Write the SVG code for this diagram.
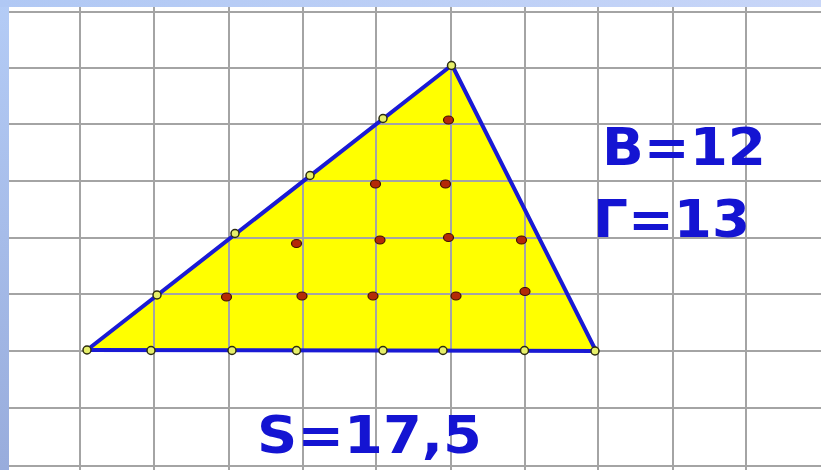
<svg xmlns="http://www.w3.org/2000/svg" width="821" height="470" viewBox="0 0 821 470">
<defs>
<linearGradient id="bgTop" x1="0" y1="0" x2="1" y2="0">
<stop offset="0" stop-color="#b0c8f4"/>
<stop offset="1" stop-color="#c8d6f8"/>
</linearGradient>
<linearGradient id="bgLeft" x1="0" y1="0" x2="0" y2="1">
<stop offset="0" stop-color="#b4ccf6"/>
<stop offset="1" stop-color="#98acdc"/>
</linearGradient>
<style>
.grid line{stroke:#a4a4a4;stroke-width:2}
.edge{stroke:#1a1ad4;stroke-width:4;stroke-linecap:round;fill:none}
.bdot{fill:#e6ef6a;stroke:#2c2c10;stroke-width:1.5}
.idot{fill:#b42a08;stroke:#401000;stroke-width:1.2}
.lbl{font-family:"DejaVu Sans","Liberation Sans",sans-serif;font-weight:bold;font-size:51px;fill:#1414d2}
</style>
</defs>
<g id="background">
<rect x="0" y="0" width="821" height="470" fill="url(#bgLeft)"/>
<rect x="0" y="0" width="821" height="7" fill="url(#bgTop)"/>
<rect x="9" y="7" width="812" height="463" fill="#ffffff"/>
</g>
<g id="triangle-fill">
<polygon points="87,350 452,65 596,351" fill="#ffff00"/>
</g>
<g id="grid" class="grid">
<line x1="80" y1="7" x2="80" y2="470"/>
<line x1="154" y1="7" x2="154" y2="470"/>
<line x1="229" y1="7" x2="229" y2="470"/>
<line x1="303" y1="7" x2="303" y2="470"/>
<line x1="376" y1="7" x2="376" y2="470"/>
<line x1="451" y1="7" x2="451" y2="470"/>
<line x1="525" y1="7" x2="525" y2="470"/>
<line x1="598" y1="7" x2="598" y2="470"/>
<line x1="673" y1="7" x2="673" y2="470"/>
<line x1="746" y1="7" x2="746" y2="470"/>
<line x1="9" y1="12" x2="821" y2="12"/>
<line x1="9" y1="68" x2="821" y2="68"/>
<line x1="9" y1="124" x2="821" y2="124"/>
<line x1="9" y1="181" x2="821" y2="181"/>
<line x1="9" y1="238" x2="821" y2="238"/>
<line x1="9" y1="294" x2="821" y2="294"/>
<line x1="9" y1="351" x2="821" y2="351"/>
<line x1="9" y1="408" x2="821" y2="408"/>
<line x1="9" y1="466" x2="821" y2="466"/>
</g>
<g id="connectors">
<line class="edge" x1="87" y1="350" x2="452" y2="65"/>
<line class="edge" x1="452" y1="65" x2="596" y2="351"/>
<line class="edge" x1="596" y1="351" x2="87" y2="350"/>
</g>
<g id="boundary-points">
<circle id="b1" class="bdot" cx="87" cy="350" r="4"/>
<circle id="b2" class="bdot" cx="151" cy="350.5" r="4"/>
<circle id="b3" class="bdot" cx="232" cy="350.5" r="4"/>
<circle id="b4" class="bdot" cx="296.5" cy="350.5" r="4"/>
<circle id="b5" class="bdot" cx="383" cy="350.5" r="4"/>
<circle id="b6" class="bdot" cx="443" cy="350.5" r="4"/>
<circle id="b7" class="bdot" cx="524.5" cy="350.5" r="4"/>
<circle id="b8" class="bdot" cx="595" cy="351" r="4"/>
<circle id="b9" class="bdot" cx="157" cy="295" r="4"/>
<circle id="b10" class="bdot" cx="235" cy="233.5" r="4"/>
<circle id="b11" class="bdot" cx="310" cy="175.5" r="4"/>
<circle id="b12" class="bdot" cx="383" cy="118.5" r="4"/>
<circle id="b13" class="bdot" cx="451.5" cy="65.5" r="4"/>
</g>
<g id="interior-points">
<ellipse id="i1" class="idot" cx="448.5" cy="120" rx="5" ry="4"/>
<ellipse id="i2" class="idot" cx="375.5" cy="184" rx="5" ry="4"/>
<ellipse id="i3" class="idot" cx="445.5" cy="184" rx="5" ry="4"/>
<ellipse id="i4" class="idot" cx="296.5" cy="243.5" rx="5" ry="4"/>
<ellipse id="i5" class="idot" cx="380" cy="240" rx="5" ry="4"/>
<ellipse id="i6" class="idot" cx="448.5" cy="237.5" rx="5" ry="4"/>
<ellipse id="i7" class="idot" cx="521.5" cy="240" rx="5" ry="4"/>
<ellipse id="i8" class="idot" cx="226.5" cy="297" rx="5" ry="4"/>
<ellipse id="i9" class="idot" cx="302" cy="296" rx="5" ry="4"/>
<ellipse id="i10" class="idot" cx="373" cy="296" rx="5" ry="4"/>
<ellipse id="i11" class="idot" cx="456" cy="296" rx="5" ry="4"/>
<ellipse id="i12" class="idot" cx="525" cy="291.5" rx="5" ry="4"/>
</g>
<g id="labels">
<text id="lblB" class="lbl" x="602" y="165" textLength="164" lengthAdjust="spacingAndGlyphs">В=12</text>
<text id="lblG" class="lbl" x="593" y="236.5" textLength="157" lengthAdjust="spacingAndGlyphs">Г=13</text>
<text id="lblS" class="lbl" x="257" y="453" textLength="225" lengthAdjust="spacingAndGlyphs">S=17,5</text>
</g>
</svg>
